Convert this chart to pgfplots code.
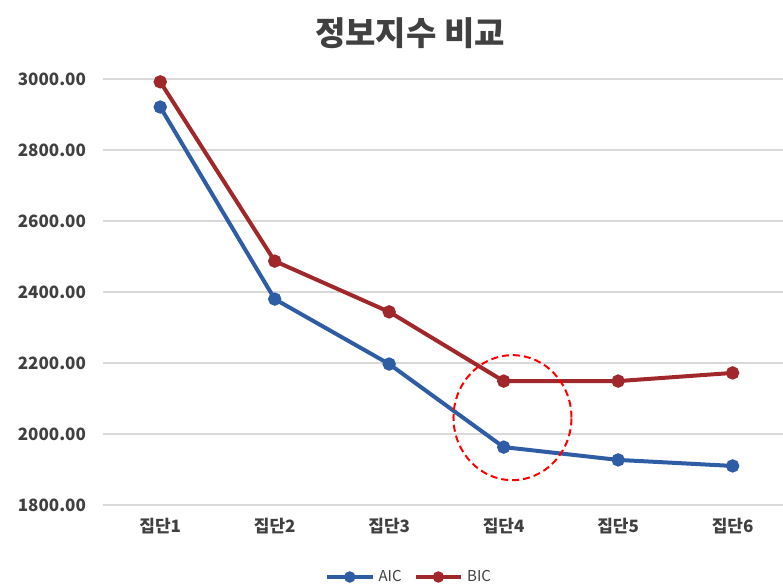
\documentclass[border=0pt]{standalone}
\usepackage{pgfplots}
\pgfplotsset{compat=1.18}
\usepackage{fontspec}
\setmainfont{Liberation Sans}
\newfontfamily\kr{Noto Sans CJK KR}
\definecolor{aicblue}{HTML}{2E5DA6}
\definecolor{bicred}{HTML}{A0282B}
\definecolor{gridgray}{HTML}{D9D9D9}
\definecolor{labelgray}{HTML}{404040}
\begin{document}
\begin{tikzpicture}
\useasboundingbox (0,0) rectangle (391.5pt,294pt);
\node[font=\kr\bfseries\fontsize{16.5}{18}\selectfont, text=labelgray] at (205pt,277.5pt) {정보지수 비교};
\begin{axis}[
  at={(51.5pt,41.5pt)}, anchor=south west,
  scale only axis, width=340pt, height=213pt,
  xmin=0.5, xmax=6.44, ymin=1800, ymax=3000,
  xtick={1,...,6},
  xticklabels={집단1,집단2,집단3,집단4,집단5,집단6},
  ytick={1800,2000,...,3000},
  yticklabels={1800.00,2000.00,2200.00,2400.00,2600.00,2800.00,3000.00},
  axis line style={draw=none},
  major tick length=0pt,
  ymajorgrids, grid style={gridgray, line width=0.75pt},
  yticklabel style={font=\kr\bfseries\fontsize{8.5}{10}\selectfont, text=labelgray, xshift=-5pt},
  xticklabel style={font=\kr\bfseries\fontsize{8.5}{10}\selectfont, text=labelgray, yshift=-3pt},
  legend style={at={(0.4515,-0.169)}, anchor=center, draw=none, fill=none,
    legend columns=2, font=\kr\fontsize{7.5}{9}\selectfont, text=labelgray,
    /tikz/every even column/.append style={column sep=4pt}},
  legend image code/.code={
    \draw[mark repeat=2, mark phase=2, #1, mark size=1.8pt]
      plot coordinates {(0cm,0cm) (0.4cm,0cm) (0.8cm,0cm)};},
  clip=false,
]
\addplot[aicblue, line width=2pt, mark=*, mark size=2.3pt] coordinates {
  (1,2921) (2,2380) (3,2197) (4,1963) (5,1927) (6,1910)};
\addlegendentry{AIC}
\addplot[bicred, line width=2pt, mark=*, mark size=2.3pt] coordinates {
  (1,2992) (2,2487) (3,2344) (4,2149) (5,2149) (6,2172)};
\addlegendentry{BIC}
\draw[red, line width=1pt, dash pattern=on 3.5pt off 2pt] (axis cs:4.077,2046) ellipse [x radius=29.5pt, y radius=31.25pt];
\end{axis}
\end{tikzpicture}
\end{document}
